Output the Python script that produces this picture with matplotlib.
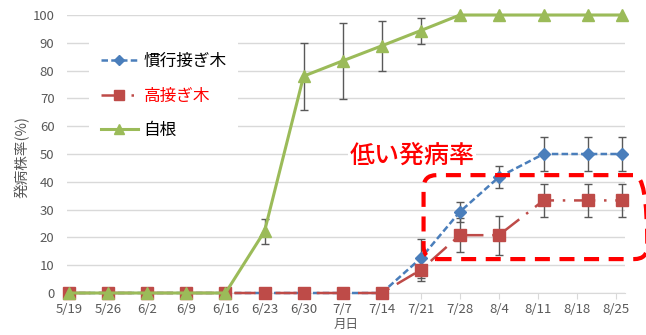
import datetime as dt

import matplotlib
matplotlib.use("Agg")
import matplotlib.pyplot as plt
from matplotlib.patches import FancyBboxPatch
from matplotlib.transforms import IdentityTransform

plt.rcParams["font.family"] = ["Noto Sans CJK JP", "DejaVu Sans"]

# ---- data -------------------------------------------------------------
survey_dates = ["5/19", "5/26", "6/2", "6/9", "6/16", "6/23", "6/30", "7/7",
                "7/14", "7/21", "7/28", "8/4", "8/12", "8/20", "8/26"]
tick_dates = ["5/19", "5/26", "6/2", "6/9", "6/16", "6/23", "6/30", "7/7",
              "7/14", "7/21", "7/28", "8/4", "8/11", "8/18", "8/25"]

series_names = ["慣行接ぎ木", "高接ぎ木", "自根"]

conventional = [0, 0, 0, 0, 0, 0, 0, 0, 0, 12.5, 29.2, 41.7, 50.0, 50.0, 50.0]
conventional_err = [0, 0, 0, 0, 0, 0, 0, 0, 0, 7.0, 3.6, 4.1, 6.0, 6.0, 6.0]

top_grafted = [0, 0, 0, 0, 0, 0, 0, 0, 0, 8.3, 20.8, 20.8, 33.3, 33.3, 33.3]
top_grafted_err = [0, 0, 0, 0, 0, 0, 0, 0, 0, 4.0, 6.0, 7.0, 6.0, 6.0, 6.0]

own_root = [0, 0, 0, 0, 0, 22.2, 78.0, 83.5, 88.9, 94.4, 100, 100, 100, 100, 100]
own_root_err = [0, 0, 0, 0, 0, 4.5, 12.0, 13.7, 9.0, 4.7, 0, 0, 0, 0, 0]

y_ticks = [0, 10, 20, 30, 40, 50, 60, 70, 80, 90, 100]

note_text = "低い発病率"

# ---- helpers ----------------------------------------------------------
SEASON_YEAR = 2015
START = dt.date(SEASON_YEAR, 5, 19)


def day_of(md):
    m, d = (int(v) for v in md.split("/"))
    return (dt.date(SEASON_YEAR, m, d) - START).days


x_survey = [day_of(s) for s in survey_dates]
x_ticks = [day_of(s) for s in tick_dates]

# ---- styles -----------------------------------------------------------
BLUE = "#4A7EBB"
RED = "#BE4B48"
GREEN = "#9BBB59"
GRID = "#D9D9D9"
TEXT_GRAY = "#595959"
ERR = "#595959"

fig = plt.figure(figsize=(6.46, 3.35), dpi=100)
ax = fig.add_axes([67 / 646, 42 / 335, 558 / 646, 278 / 335])

ax.set_xlim(x_ticks[0] - 0.4, x_ticks[-1] + 1.6)
ax.set_ylim(0, 100)

ax.set_yticks(y_ticks)
ax.set_xticks(x_ticks)
ax.set_xticklabels(tick_dates)
ax.yaxis.grid(True, color=GRID, linewidth=1.0)
ax.set_axisbelow(True)
for side in ("top", "right", "left"):
    ax.spines[side].set_visible(False)
ax.spines["bottom"].set_color(GRID)
ax.tick_params(axis="y", length=0, pad=9, labelsize=9.5, labelcolor=TEXT_GRAY)
ax.tick_params(axis="x", length=4, color=GRID, pad=3, labelsize=9.5,
               labelcolor=TEXT_GRAY)


def error_bars(x, y, e):
    xs = [a for a, b in zip(x, e) if b > 0]
    ys = [a for a, b in zip(y, e) if b > 0]
    es = [b for b in e if b > 0]
    ax.errorbar(xs, ys, yerr=es, fmt="none", ecolor=ERR, elinewidth=1.0,
                capsize=2.8, capthick=1.0, zorder=2, clip_on=False)


error_bars(x_survey, conventional, conventional_err)
error_bars(x_survey, top_grafted, top_grafted_err)
error_bars(x_survey, own_root, own_root_err)

h_conv, = ax.plot(x_survey, conventional, color=BLUE, linewidth=1.8,
                  linestyle=(0, (2.6, 1.3)), marker="D", markersize=6.5,
                  markerfacecolor=BLUE, markeredgecolor=BLUE, zorder=3,
                  clip_on=False, label=series_names[0])
h_top, = ax.plot(x_survey, top_grafted, color=RED, linewidth=1.8,
                 linestyle=(0, (8.5, 3.5, 1.0, 3.5)), marker="s",
                 markersize=8.5, markerfacecolor=RED, markeredgecolor=RED,
                 zorder=4, clip_on=False, label=series_names[1])
h_own, = ax.plot(x_survey, own_root, color=GREEN, linewidth=2.2,
                 marker="^", markersize=9, markerfacecolor=GREEN,
                 markeredgecolor=GREEN, zorder=5, clip_on=False,
                 label=series_names[2])

leg = ax.legend(handles=[h_conv, h_top, h_own], loc="upper left",
                bbox_to_anchor=(0.04, 0.905), fontsize=12, frameon=True,
                facecolor="white", edgecolor="none", framealpha=1.0,
                fancybox=False, handlelength=2.2, handletextpad=0.35,
                labelspacing=1.05, borderpad=0.7, borderaxespad=0,
                markerscale=0.85)
leg.get_texts()[1].set_color("#FF0000")
leg.set_zorder(6)

ax.set_ylabel("発病株率(%)", fontsize=10.5, color=TEXT_GRAY)
ax.yaxis.set_label_coords(-0.066, 0.49)
ax.set_xlabel("月日", fontsize=9, color=TEXT_GRAY)
ax.xaxis.set_label_coords(0.5, -0.088)

# highlighted region: red rounded dashed frame and its caption
ax.text(day_of("7/9") - 0.7, 49.5, note_text, fontsize=18, color="#FF0000",
        fontweight="medium", ha="left", va="center", zorder=7,
        bbox=dict(facecolor="white", edgecolor="none", pad=1.0))

fig.canvas.draw()
x0, y0 = ax.transData.transform((day_of("7/21") + 0.5, 12.2))
x1, y1 = ax.transData.transform((day_of("8/25") + 5.6, 42.4))
frame = FancyBboxPatch((x0, y0), x1 - x0, y1 - y0,
                       boxstyle="round,pad=0,rounding_size=13",
                       transform=IdentityTransform(), fill=False,
                       edgecolor="#FF0000", linewidth=3.0,
                       linestyle=(0, (3.6, 2.3)), zorder=8, clip_on=False)
fig.add_artist(frame)

fig.savefig("out.png", dpi=100)
